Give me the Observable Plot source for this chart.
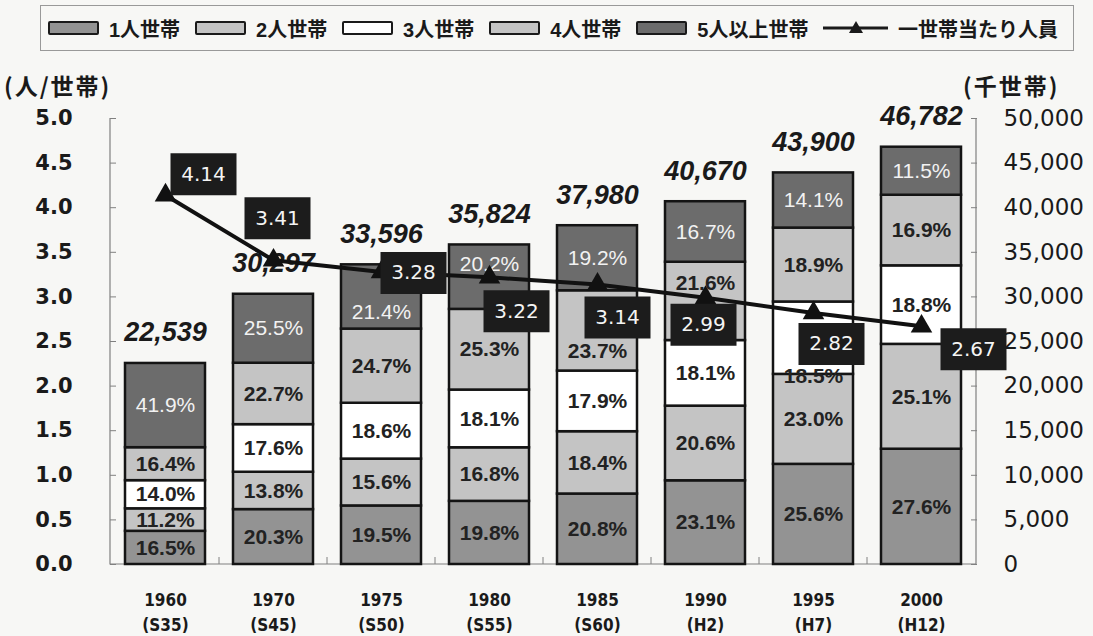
<!DOCTYPE html>
<html><head><meta charset="utf-8">
<script src="https://cdn.jsdelivr.net/npm/d3@7"></script>
<script src="https://cdn.jsdelivr.net/npm/@observablehq/plot@0.6"></script>
<style>
body{margin:0;background:#f7f7f5;font-family:"Liberation Sans","Noto Sans CJK JP",sans-serif;}
#wrap{position:relative;width:1093px;height:636px;overflow:hidden;}
#legend{position:absolute;left:40px;top:5px;width:1034px;height:46px;border:1px solid #999;box-sizing:border-box;display:flex;align-items:center;padding-left:7px;font-family:"Liberation Sans","Noto Sans CJK JP",sans-serif;font-weight:bold;font-size:20px;color:#1a1a1a;}
#legend .sw{display:inline-block;width:48px;height:10px;border:2px solid #1a1a1a;border-radius:2px;margin-right:10px;}
#legend .lab{margin-right:15px;white-space:nowrap;}
.ttl{position:absolute;font-family:"Noto Sans CJK JP",sans-serif;font-weight:bold;font-size:23px;line-height:30px;color:#1a1a1a;letter-spacing:2px;}
#chart{position:absolute;left:0;top:50px;}
</style>
</head><body>
<div id="wrap">
  <div id="legend"></div>
  <div class="ttl" style="left:4px;top:70px;">(人/世帯)</div>
  <div class="ttl" style="left:963px;top:70px;">(千世帯)</div>
  <div id="chart"></div>
</div>
<script>
// ---- data ----
const years = ["1960","1970","1975","1980","1985","1990","1995","2000"];
const eras = ["(S35)","(S45)","(S50)","(S55)","(S60)","(H2)","(H7)","(H12)"];
const sizes = ["1人世帯","2人世帯","3人世帯","4人世帯","5人以上世帯"];
const lineName = "一世帯当たり人員";
const totals = [22539,30297,33596,35824,37980,40670,43900,46782];          // 千世帯
const share1 = [16.5,20.3,19.5,19.8,20.8,23.1,25.6,27.6];                  // %
const share2 = [11.2,13.8,15.6,16.8,18.4,20.6,23.0,25.1];
const share3 = [14.0,17.6,18.6,18.1,17.9,18.1,18.5,18.8];
const share4 = [16.4,22.7,24.7,25.3,23.7,21.6,18.9,16.9];
const share5 = [41.9,25.5,21.4,20.2,19.2,16.7,14.1,11.5];
const perHousehold = [4.14,3.41,3.28,3.22,3.14,2.99,2.82,2.67];           // 人/世帯
const leftTicks = [0,0.5,1,1.5,2,2.5,3,3.5,4,4.5,5];

// ---- styles / layout ----
const sizeColors = ["#939393","#c4c4c4","#ffffff","#c4c4c4","#6c6c6c"];
const labelOffsets = [[38,-21],[4,-42],[32,1],[27,34],[20,33],[-2,27],[18,31],[52,23]];
// pixel nudges of a few percentage labels (moved clear of the value boxes)
const labelNudges = [["1975|5人以上世帯",15],["1980|5人以上世帯",-13],["1985|4人世帯",20],["1990|4人世帯",-18],["1995|3人世帯",38]];
const RATIO = 10000; // 50,000 千世帯 ↔ 5.0 人/世帯

const shares = [share1,share2,share3,share4,share5];
const rows = [];
years.forEach((year,i)=>{
  const sum = d3.sum(shares, s=>s[i]);
  sizes.forEach((size,k)=>{
    rows.push({year, size, key: year + "|" + size, share: shares[k][i], v: totals[i]*shares[k][i]/sum/RATIO});
  });
});
const yearRows = years.map((year,i)=>({year, era: eras[i], total: totals[i], persons: perHousehold[i]}));
const nudged = new Set(labelNudges.map(d => d[0]));

// legend
const legend = document.getElementById("legend");
sizes.forEach((s,k)=>{
  const sw = document.createElement("span"); sw.className="sw"; sw.style.background=sizeColors[k];
  const lb = document.createElement("span"); lb.className="lab"; lb.textContent=s;
  legend.append(sw, lb);
});
const ls = document.createElementNS("http://www.w3.org/2000/svg","svg");
ls.setAttribute("width","66"); ls.setAttribute("height","20"); ls.style.marginRight="10px";
ls.innerHTML = '<line x1="0" y1="10" x2="66" y2="10" stroke="#1a1a1a" stroke-width="3"/><path d="M33,3L40,15H26Z" fill="#1a1a1a"/>';
legend.append(ls);
const ll = document.createElement("span"); ll.className="lab"; ll.textContent=lineName; legend.append(ll);

const boxSymbol = {draw(ctx){ ctx.moveTo(-33,-21); ctx.lineTo(33,-21); ctx.lineTo(33,21); ctx.lineTo(-33,21); ctx.closePath(); }};

const frameMark = (index, scales, values, dims) => {
  const {marginLeft, marginRight, marginTop, marginBottom, width, height} = dims;
  const x0 = marginLeft, x1 = width - marginRight, y0 = marginTop, y1 = height - marginBottom;
  const g = d3.create("svg:g");
  g.append("path").attr("d", `M${x0},${y0}V${y1}H${x1}V${y0}`).attr("fill","none").attr("stroke","#808080").attr("stroke-width",1.2);
  const sx = scales.x;
  if (sx && sx.bandwidth) {
    const bw = sx.bandwidth();
    for (let i = 0; i < years.length - 1; i++) {
      const xm = (sx(years[i]) + bw + sx(years[i+1])) / 2;
      g.append("path").attr("d", `M${xm},${y1}v-7`).attr("stroke","#808080");
    }
  }
  return g.node();
};

const pctText = (pred, dy) => {
  const light = k => k.endsWith("5人以上世帯");
  return [
    Plot.text(rows, Plot.stackY({x: "year", y: "v", z: "size", dy,
      text: d => pred(d) && !light(d.key) ? d.share.toFixed(1) + "%" : null,
      fill: "#222", fontWeight: "bold", fontSize: 21})),
    Plot.text(rows, Plot.stackY({x: "year", y: "v", z: "size", dy,
      text: d => pred(d) && light(d.key) ? d.share.toFixed(1) + "%" : null,
      fill: "#f2f2f2", fontSize: 21}))
  ];
};

const chart = Plot.plot({
  width: 1093, height: 586,
  marginTop: 68, marginBottom: 72, marginLeft: 110, marginRight: 117,
  style: {background: "transparent", fontFamily: "'Liberation Sans', Arial, sans-serif", color: "#1a1a1a"},
  x: {type: "band", domain: years, paddingInner: 0.26, paddingOuter: 0, insetLeft: 13, insetRight: 14, label: null},
  y: {domain: [0, 5], label: null},
  color: {domain: sizes, range: sizeColors},
  marks: [
    frameMark,
    Plot.axisY({anchor: "left", ticks: leftTicks, tickFormat: d3.format(".1f"), tickSize: -6, tickPadding: 44,
      fontSize: 21, fontWeight: "bold", fontFamily: "'DejaVu Sans', sans-serif", label: null, stroke: "#808080"}),
    Plot.axisY({anchor: "right", ticks: leftTicks, tickFormat: d => d3.format(",")(Math.round(d*RATIO)), tickSize: -6, tickPadding: 33,
      fontSize: 23, fontFamily: "'DejaVu Sans', sans-serif", label: null, stroke: "#808080"}),
    Plot.axisX({tickSize: 0, tickPadding: 23, tickFormat: d => d + "\n" + eras[years.indexOf(d)], lineAnchor: "top", lineHeight: 1.5,
      fontSize: 17, fontWeight: "bold", fontFamily: "'Liberation Sans Narrow', 'DejaVu Sans Condensed', 'Liberation Sans', sans-serif", label: null}),
    Plot.barY(rows, {x: "year", y: "v", fill: "size", stroke: "#141414", strokeWidth: 2.5}),
    ...pctText(d => !nudged.has(d.key), 0),
    ...labelNudges.flatMap(([key, dy]) => pctText(d => d.key === key, dy)),
    Plot.text(yearRows, {x: "year", y: d => d.total / RATIO, text: d => d3.format(",")(d.total),
      dy: -22, lineAnchor: "bottom", fontSize: 27, fontStyle: "italic", fontWeight: "bold", fill: "#1a1a1a"}),
    Plot.line(yearRows, {x: "year", y: "persons", stroke: "#111", strokeWidth: 4}),
    Plot.dot(yearRows, {x: "year", y: "persons", symbol: "triangle", r: 8, fill: "#111"}),
    ...labelOffsets.flatMap(([dx, dy], i) => [
      Plot.dot([yearRows[i]], {x: "year", y: "persons", symbol: boxSymbol, r: 10, fill: "#1c1c1c", dx, dy}),
      Plot.text([yearRows[i]], {x: "year", y: "persons", text: d => d.persons.toFixed(2), fill: "#f4f4f4",
        fontSize: 20, fontFamily: "'DejaVu Sans', sans-serif", dx, dy})
    ])
  ]
});
document.getElementById("chart").append(chart);
</script>
</body></html>
